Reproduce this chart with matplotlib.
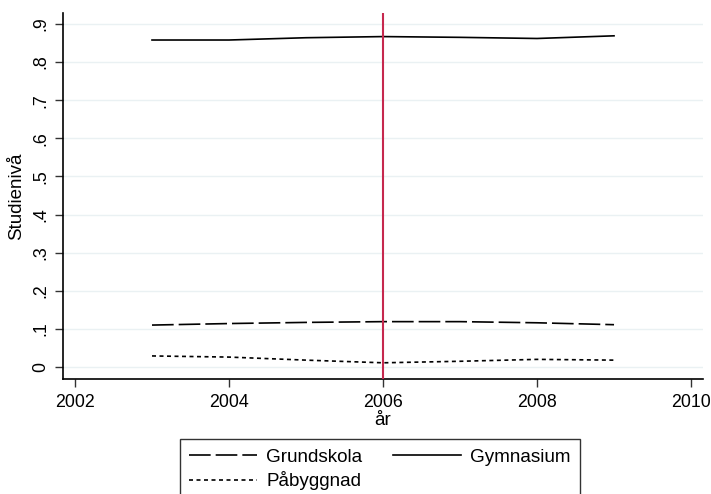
import matplotlib
matplotlib.use("Agg")
import matplotlib.pyplot as plt
from matplotlib.ticker import FuncFormatter

# data
years = [2003, 2004, 2005, 2006, 2007, 2008, 2009]
grundskola = [0.110, 0.114, 0.117, 0.119, 0.119, 0.116, 0.111]
gymnasium = [0.858, 0.858, 0.864, 0.867, 0.865, 0.862, 0.869]
pabyggnad = [0.029, 0.026, 0.018, 0.011, 0.015, 0.020, 0.018]
cut_year = 2006
xticks = [2002, 2004, 2006, 2008, 2010]
yticks = [0, .1, .2, .3, .4, .5, .6, .7, .8, .9]

plt.rcParams['font.family'] = ['Liberation Sans', 'DejaVu Sans']
fs = 12.8
fs_title = 13.5
fs_leg = 13.6

fig = plt.figure(figsize=(7.11, 4.94), dpi=100)
ax = fig.add_axes([0.0886, 0.2328, 0.9002, 0.7409])

for y in yticks:
    ax.axhline(y, color='#eaf1f3', lw=1.0, zorder=0)

l1, = ax.plot(years, grundskola, color='black', lw=1.2, dashes=(13, 3), label='Grundskola')
l2, = ax.plot(years, gymnasium, color='black', lw=1.2, label='Gymnasium')
l3, = ax.plot(years, pabyggnad, color='black', lw=1.2, dashes=(2.4, 2.1), label='Påbyggnad')
ax.axvline(cut_year, color='#c6284e', lw=1.5, zorder=3)

ax.set_xlim(2001.844, 2010.156)
ax.set_ylim(-0.0315, 0.9289)
ax.set_xticks(xticks)
ax.set_yticks(yticks)
ax.yaxis.set_major_formatter(FuncFormatter(lambda v, p: '0' if v == 0 else ('%.1f' % v).lstrip('0')))
for lab in ax.get_yticklabels():
    lab.set_rotation(90)
    lab.set_va('center')
ax.tick_params(labelsize=fs, length=6, width=1, color='#333333')
ax.tick_params(axis='x', pad=4.5)
ax.tick_params(axis='y', pad=4)
for s in ['top', 'right']:
    ax.spines[s].set_visible(False)
for s in ['left', 'bottom']:
    ax.spines[s].set_linewidth(1.2)

ax.set_xlabel('år', fontsize=fs_title, labelpad=1)
ax.set_ylabel('Studienivå', fontsize=fs_title, labelpad=5)

# row-wise order: Grundskola, Gymnasium / Påbyggnad
leg = ax.legend([l1, l3, l2], ['Grundskola', 'Påbyggnad', 'Gymnasium'],
                loc='upper center', bbox_to_anchor=(0.495, -0.164), ncol=2,
                borderaxespad=0,
                fontsize=fs_leg, frameon=True, fancybox=False, edgecolor='black',
                handlelength=3.6, handletextpad=0.5, columnspacing=1.6,
                borderpad=0.5, labelspacing=0.3)
leg.get_frame().set_linewidth(1.0)

fig.savefig('out.png', dpi=100)
